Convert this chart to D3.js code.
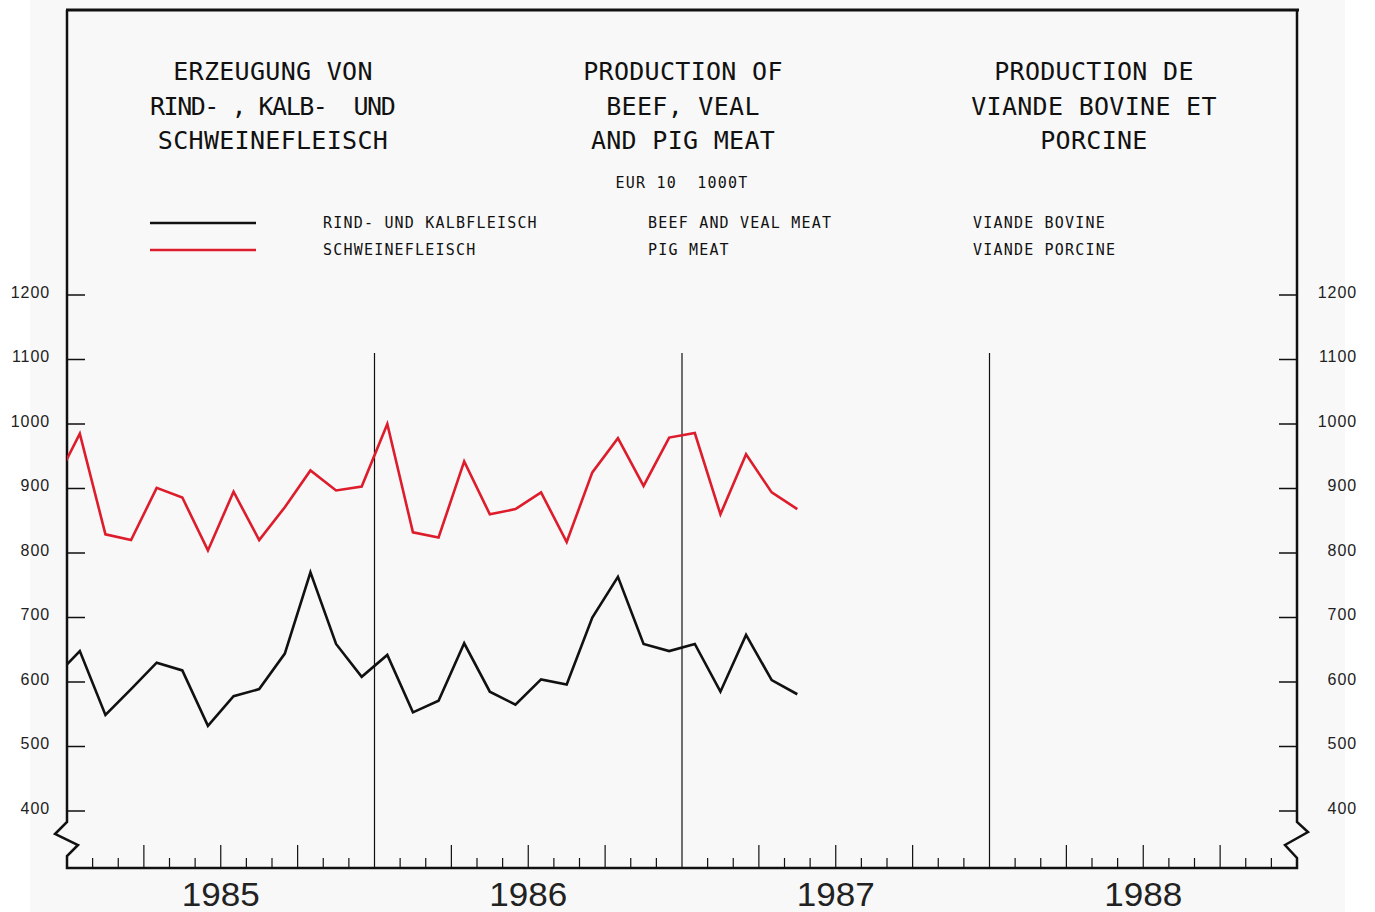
<!DOCTYPE html>
<html>
<head>
<meta charset="utf-8">
<script src="https://cdn.jsdelivr.net/npm/d3@7"></script>
<style>
  html, body { margin: 0; padding: 0; background: #ffffff; }
  svg { display: block; }
</style>
</head>
<body>
<svg id="chart" width="1375" height="912"></svg>
<script>
// ---- data (monthly, mid-month; first value Dec 1984 is clipped at the frame) ----
const months = ["1984-12",
  "1985-01","1985-02","1985-03","1985-04","1985-05","1985-06","1985-07","1985-08","1985-09","1985-10","1985-11","1985-12",
  "1986-01","1986-02","1986-03","1986-04","1986-05","1986-06","1986-07","1986-08","1986-09","1986-10","1986-11","1986-12",
  "1987-01","1987-02","1987-03","1987-04","1987-05"];
const beefVeal = [607,
  648, 549, 589, 630, 618, 532, 578, 589, 644, 770, 659, 608,
  642, 553, 571, 660, 585, 565, 604, 596, 700, 763, 659, 648,
  659, 585, 673, 603, 581];
const pigMeat = [907,
  985, 829, 820, 901, 886, 804, 895, 820, 871, 928, 897, 903,
  1000, 832, 824, 942, 860, 868, 894, 817, 925, 978, 904, 979,
  986, 860, 953, 894, 868];
const years = [1985, 1986, 1987, 1988];
const yTicks = [400, 500, 600, 700, 800, 900, 1000, 1100, 1200];

const titleDE = ["ERZEUGUNG VON", "RIND- , KALB-  UND", "SCHWEINEFLEISCH"];
const titleEN = ["PRODUCTION OF", "BEEF, VEAL", "AND PIG MEAT"];
const titleFR = ["PRODUCTION DE", "VIANDE BOVINE ET", "PORCINE"];
const unitText = "EUR 10  1000T";
const legendDE = ["RIND- UND KALBFLEISCH", "SCHWEINEFLEISCH"];
const legendEN = ["BEEF AND VEAL MEAT", "PIG MEAT"];
const legendFR = ["VIANDE BOVINE", "VIANDE PORCINE"];

// ---- layout ----
const svg = d3.select("#chart");
const L = 67, R = 1297, TOP = 10, BASE = 868;
const RED = "#dd1c2c";

svg.append("rect").attr("x", 30).attr("y", 0).attr("width", 1315).attr("height", 912).attr("fill", "#f8f8f8");

const monthIndex = s => { const [y, m] = s.split("-").map(Number); return (y - 1985) * 12 + (m - 1) + 0.5; };
const x = d3.scaleLinear().domain([0, 48]).range([L, R]);
const y = d3.scaleLinear().domain([400, 1200]).range([811, 295]);

// frame
svg.append("line").attr("x1", L - 1).attr("x2", R + 2).attr("y1", TOP).attr("y2", TOP)
  .attr("stroke", "#111").attr("stroke-width", 3);
const axisPath = (pts) => svg.append("path").attr("d", d3.line()(pts))
  .attr("fill", "none").attr("stroke", "#111").attr("stroke-width", 2.5).attr("stroke-linejoin", "miter");
axisPath([[L, TOP], [L, 822], [L - 12, 834], [L + 11, 845], [L, 856], [L, BASE], [R, BASE], [R, 858], [R - 12, 845], [R + 11, 832], [R, 822], [R, TOP]]);

// y ticks and labels both sides
const yAxisL = d3.axisLeft(y).tickValues(yTicks).tickFormat(d3.format("d")).tickSize(0).tickPadding(0);
yTicks.forEach(v => {
  svg.append("line").attr("x1", L).attr("x2", L + 18).attr("y1", y(v)).attr("y2", y(v)).attr("stroke", "#111").attr("stroke-width", 1.5);
  svg.append("line").attr("x1", R - 18).attr("x2", R).attr("y1", y(v)).attr("y2", y(v)).attr("stroke", "#111").attr("stroke-width", 1.5);
});
function styleY(g) {
  g.select(".domain").remove();
  g.selectAll("text").attr("font-family", "Liberation Sans, Arial, sans-serif").attr("font-size", 16)
    .attr("letter-spacing", 0.9).attr("fill", "#222");
}
styleY(svg.append("g").attr("transform", `translate(50,-3)`).call(yAxisL));
styleY(svg.append("g").attr("transform", `translate(1357,-3)`).call(yAxisL));

// x ticks: months / quarters / years
d3.range(1, 48).forEach(i => {
  const isYear = i % 12 === 0, isQ = i % 3 === 0;
  const top = isYear ? 353 : (isQ ? 845 : 858);
  svg.append("line").attr("x1", x(i)).attr("x2", x(i)).attr("y1", top).attr("y2", BASE)
    .attr("stroke", "#111").attr("stroke-width", 1.2);
});
svg.append("g").selectAll("text").data(years).join("text")
  .attr("x", (d, i) => x(i * 12 + 6)).attr("y", 906)
  .attr("text-anchor", "middle")
  .attr("font-family", "Liberation Sans, Arial, sans-serif").attr("font-size", 34).attr("fill", "#222")
  .attr("textLength", 78).attr("lengthAdjust", "spacingAndGlyphs")
  .text(d => d);

// titles
const mono = "DejaVu Sans Mono, monospace";
function block(lines, cx, fixed) {
  svg.append("g").selectAll("text").data(lines).join("text")
    .attr("x", cx).attr("y", (d, i) => 80 + i * 34.5)
    .attr("text-anchor", "middle").attr("font-family", mono).attr("font-size", 25)
    .attr("letter-spacing", 0.3).attr("fill", "#111")
    .attr("xml:space", "preserve").style("white-space", "pre")
    .each(function (d, i) { if (fixed && fixed[i]) d3.select(this).attr("textLength", fixed[i]).attr("lengthAdjust", "spacing"); })
    .text(d => d);
}
block(titleDE, 273, [null, 246, null]);
block(titleEN, 683);
block(titleFR, 1094);
svg.append("text").attr("x", 682).attr("y", 188).attr("text-anchor", "middle")
  .attr("font-family", mono).attr("font-size", 15).attr("letter-spacing", 1.2)
  .attr("xml:space", "preserve").style("white-space", "pre").attr("fill", "#111").text(unitText);

// legend
const legendColors = ["#111", RED];
[0, 1].forEach(k => {
  const yy = 223 + k * 27;
  svg.append("line").attr("x1", 150).attr("x2", 256).attr("y1", yy).attr("y2", yy)
    .attr("stroke", legendColors[k]).attr("stroke-width", 2.5);
  [[legendDE, 323], [legendEN, 648], [legendFR, 973]].forEach(([arr, lx]) => {
    svg.append("text").attr("x", lx).attr("y", yy + 5).attr("font-family", mono).attr("font-size", 15)
      .attr("letter-spacing", 1.2).attr("fill", "#111").text(arr[k]);
  });
});

// data lines
svg.append("clipPath").attr("id", "plotclip").append("rect")
  .attr("x", L).attr("y", TOP).attr("width", R - L).attr("height", BASE - TOP);
const lineGen = vals => d3.line().x((d, i) => x(monthIndex(months[i]))).y(d => y(d))(vals);
svg.append("path").attr("d", lineGen(pigMeat)).attr("clip-path", "url(#plotclip)")
  .attr("fill", "none").attr("stroke", RED).attr("stroke-width", 2.6).attr("stroke-linejoin", "miter");
svg.append("path").attr("d", lineGen(beefVeal)).attr("clip-path", "url(#plotclip)")
  .attr("fill", "none").attr("stroke", "#111").attr("stroke-width", 2.6).attr("stroke-linejoin", "miter");
</script>
</body>
</html>
